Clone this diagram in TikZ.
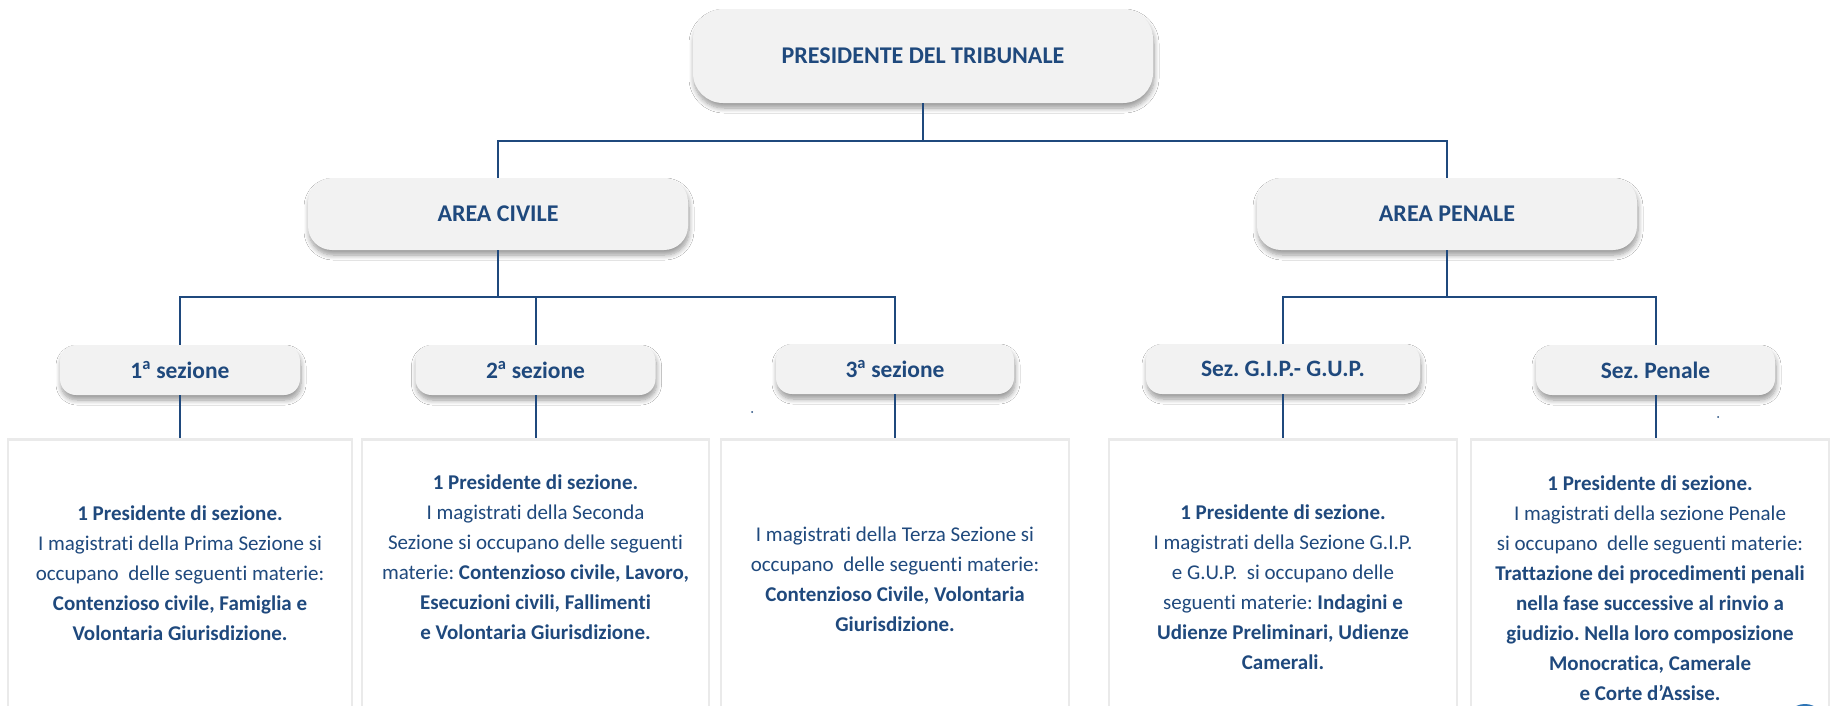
\documentclass[tikz,border=0pt]{standalone}
\usepackage{fontspec}
\setmainfont{Carlito}[Ligatures={NoCommon,NoContextual},Contextuals={NoAlternate}]
\usetikzlibrary{shadows.blur}
\definecolor{navy}{RGB}{31,73,125}
\definecolor{boxgray}{RGB}{242,242,242}
\definecolor{edgegray}{RGB}{234,234,234}
\definecolor{dotblue}{RGB}{46,117,182}
\begin{document}
\frenchspacing
\begin{tikzpicture}[x=1pt,y=-1pt,
  pill/.style={rounded corners=#1, fill=boxgray, draw=none,
    blur shadow={shadow xshift=1pt, shadow yshift=-5pt, shadow blur steps=8,
      shadow blur radius=5pt, shadow opacity=40},
    text=navy, inner sep=0pt},
  bigtitle/.style={pill=30pt, font=\fontsize{24}{28}\selectfont\bfseries},
  areatitle/.style={pill=24pt, minimum width=380pt, minimum height=72pt, font=\fontsize{24}{28}\selectfont\bfseries},
  sectitle/.style={pill=16pt, minimum height=50pt, font=\fontsize{23.5}{27}\selectfont\bfseries},
  infobox/.style={draw=edgegray, line width=2.5pt, fill=white, inner sep=0pt, anchor=north, minimum height=300pt},
  infotext/.style={text=navy, align=center, font=\fontsize{21}{30}\selectfont, inner sep=0pt},
  conn/.style={draw=navy, line width=2pt},
  speck/.style={circle, fill=navy, inner sep=0pt, minimum size=2pt}
]
\useasboundingbox (0,0) rectangle (1831,705);
\fill[white] (0,0) rectangle (1831,705);
\begin{scope}
\clip (0,0) rectangle (1831,705);

% info boxes (cut by the bottom edge)
\node[infobox, minimum width=344pt] (b1) at (180,438) {};
\node[infobox, minimum width=347pt] (b2) at (535.5,438) {};
\node[infobox, minimum width=348pt] (b3) at (895,438) {};
\node[infobox, minimum width=348pt] (b4) at (1283,438) {};
\node[infobox, minimum width=358pt] (b5) at (1650,438) {};

% top-level boxes
\node[bigtitle, minimum width=460pt, minimum height=94pt] (pres) at (923,56) {PRESIDENTE DEL TRIBUNALE};
\node[areatitle] (civ) at (498,214) {AREA CIVILE};
\node[areatitle] (pen) at (1447,214) {AREA PENALE};

% section boxes
\node[sectitle, minimum width=240pt] (s1) at (180,370) {1\textsuperscript{a} sezione};
\node[sectitle, minimum width=240pt] (s2) at (535.5,370) {2\textsuperscript{a} sezione};
\node[sectitle, minimum width=238pt] (s3) at (895,369) {3\textsuperscript{a} sezione};
\node[sectitle, minimum width=274pt] (gip) at (1283,369) {Sez. G.I.P.- G.U.P.};
\node[sectitle, minimum width=239pt] (spen) at (1655.5,370) {Sez. Penale};

% connectors
\coordinate (j1) at (923,141);
\coordinate (j2) at (498,297);
\coordinate (j3) at (1447,297);
\draw[conn] (pres.south) -- (j1);
\draw[conn] (civ.north) |- (j1) -| (pen.north);
\draw[conn] (civ.south) -- (j2);
\draw[conn] (s1.north) |- (j2) -| (s3.north);
\draw[conn] (s2.north) -- (s2.north |- j2);
\draw[conn] (pen.south) -- (j3);
\draw[conn] (gip.north) |- (j3) -| (spen.north);
\draw[conn] (s1.south) -- (s1.south |- b1.north);
\draw[conn] (s2.south) -- (s2.south |- b2.north);
\draw[conn] (s3.south) -- (s3.south |- b3.north);
\draw[conn] (gip.south) -- (gip.south |- b4.north);
\draw[conn] (spen.south) -- (spen.south |- b5.north);

% texts
\node[infotext] (t1) at (180,573) {\textbf{1 Presidente di sezione.}\\
I magistrati della Prima Sezione si\\
occupano~ delle seguenti materie:\\
\textbf{Contenzioso civile, Famiglia e}\\
\textbf{Volontaria Giurisdizione.}};
\node[infotext] (t2) at (535.5,557) {\textbf{1 Presidente di sezione.}\\
I magistrati della Seconda\\
Sezione si occupano delle seguenti\\
materie: \textbf{Contenzioso civile, Lavoro,}\\
\textbf{Esecuzioni civili, Fallimenti}\\
\textbf{e Volontaria Giurisdizione.}};
\node[infotext] (t3) at (895,579) {I magistrati della Terza Sezione si\\
occupano~ delle seguenti materie:\\
\textbf{Contenzioso Civile, Volontaria}\\
\textbf{Giurisdizione.}};
\node[infotext] (t4) at (1283,587) {\textbf{1 Presidente di sezione.}\\
I magistrati della Sezione G.I.P.\\
e G.U.P.~ si occupano delle\\
seguenti materie: \textbf{Indagini e}\\
\textbf{Udienze Preliminari, Udienze}\\
\textbf{Camerali.}};
\node[infotext] (t5) at (1650,588) {\textbf{1 Presidente di sezione.}\\
I magistrati della sezione Penale\\
si occupano~ delle seguenti materie:\\
\textbf{Trattazione dei procedimenti penali}\\
\textbf{nella fase successive al rinvio a}\\
\textbf{giudizio. Nella loro composizione}\\
\textbf{Monocratica, Camerale}\\
\textbf{e Corte d’Assise.}};

% stray specks and cut-off badge
\node[speck] (d1) at (752,412) {};
\node[speck] (d2) at (1718,417) {};
\node[circle, fill=dotblue, inner sep=0pt, minimum size=40pt] (badge) at (1805,724) {};
\end{scope}
\end{tikzpicture}
\end{document}
